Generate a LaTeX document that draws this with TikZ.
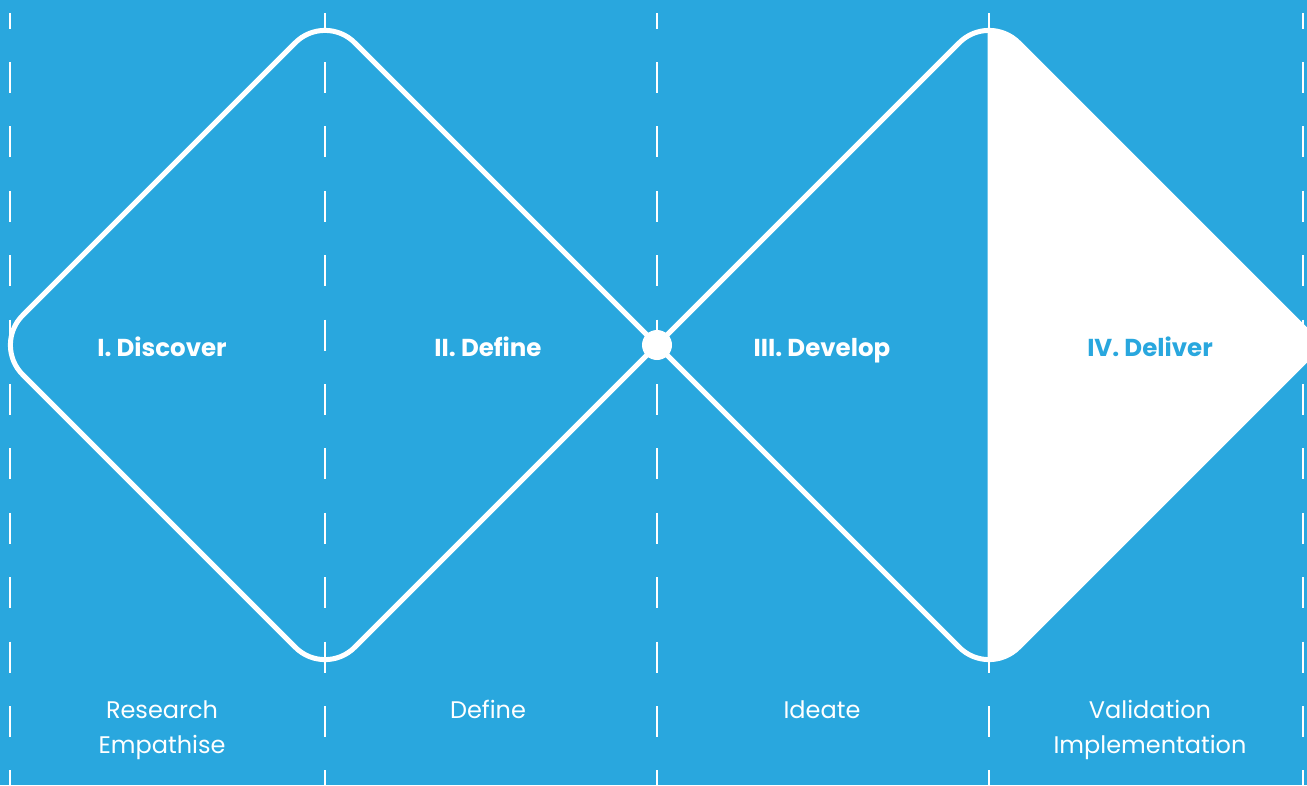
\documentclass[tikz,border=0pt]{standalone}
\usepackage{fontspec}
\setmainfont{Poppins}
\usetikzlibrary{positioning}
\definecolor{SkyBlue}{RGB}{41,167,222}
\tikzset{
  guide/.style={draw=white,line width=2.6pt,dash pattern=on 31pt off 33.4pt,dash phase=15.4pt},
  outline/.style={draw=white,line width=5pt,line join=round},
  phase/.style={font=\fontsize{24.5}{28}\selectfont\bfseries,text=white,anchor=base,inner sep=0pt},
  mode/.style={font=\fontsize{24}{35}\selectfont,text=white,align=center,anchor=base,inner sep=0pt},
}

\begin{document}
\begin{tikzpicture}[x=1pt,y=-1pt]
\fill[SkyBlue] (0,0) rectangle (1307,785);
\useasboundingbox (0,0) rectangle (1307,785);
\foreach \gx in {10,325,657,989,1303}
  \draw[guide] (\gx,13) -- (\gx,785);
\coordinate (mid) at (657,345);
% second diamond, right half filled
\begin{scope}
\clip (987.7,0) rectangle (1307,785);
\fill[white] (mid) [rounded corners=42pt] -- (989,13) [sharp corners] -- (1321,345) [rounded corners=42pt] -- (989,677) [sharp corners] -- cycle;
\end{scope}
\draw[outline,rounded corners=42pt] (mid) -- (325,677) -- (-7,345) -- (325,13) -- (mid);
\draw[outline] (mid) [rounded corners=42pt] -- (989,13) [sharp corners] -- (1321,345) [rounded corners=42pt] -- (989,677) -- (mid);
\node[circle,fill=white,minimum size=30pt,inner sep=0pt] (hub) at (mid) {};
\node[phase] (discover) at (162,356) {I. Discover};
\node[phase] (define) at (488,356) {II. Define};
\node[phase] (develop) at (822,356) {III. Develop};
\node[phase,text=SkyBlue] (deliver) at (1150,356) {IV. Deliver};
\node[mode] (research) at (162,753) {Research\\Empathise};
\node[mode] (definemode) at (488,718) {Define};
\node[mode] (ideate) at (822,718) {Ideate};
\node[mode] (validation) at (1150,753) {Validation\\Implementation};
\end{tikzpicture}
\end{document}
